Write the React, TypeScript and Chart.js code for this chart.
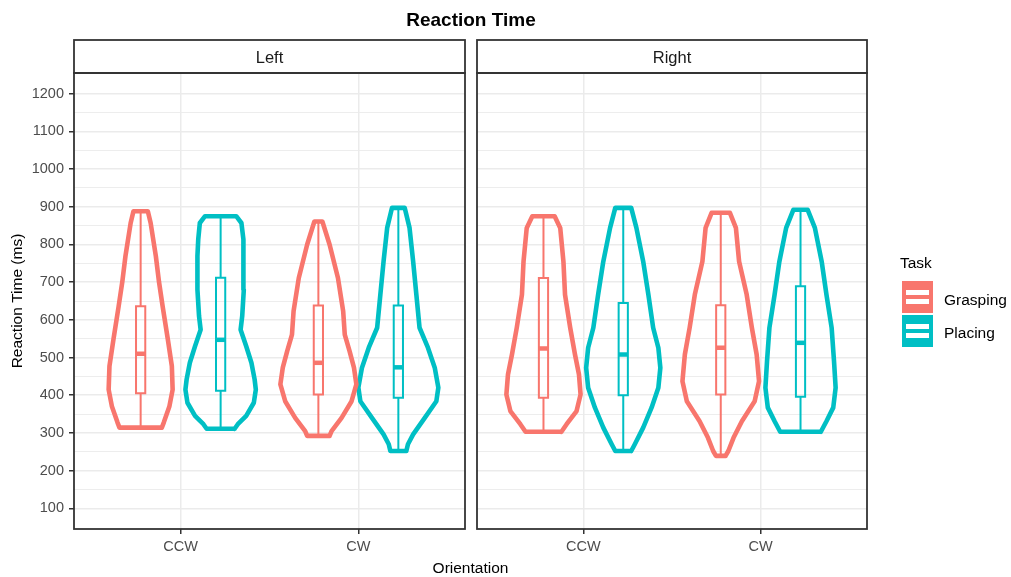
import React, { useEffect, useRef } from "react";
import { Chart, registerables } from "chart.js";

Chart.register(...registerables);

const FONT = "'Liberation Sans', Arial, Helvetica, sans-serif";

const facets = ["Left", "Right"];
const orientations = ["CCW", "CW"];
const tasks = ["Grasping", "Placing"];
const taskColors = ["#F8766D", "#00BFC4"];
const yMajorTicks = [100, 200, 300, 400, 500, 600, 700, 800, 900, 1000, 1100, 1200];
const yMinorTicks = [150, 250, 350, 450, 550, 650, 750, 850, 950, 1050, 1150];

// Violin outlines: reaction time values (ms) and scaled density (1 = widest violin)
const leftCcwGraspingRT = [314, 328, 371, 415, 477, 548, 636, 700, 769, 857, 888];
const leftCcwGraspingDensity = [0.53, 0.58, 0.72, 0.8, 0.78, 0.68, 0.55, 0.46, 0.38, 0.25, 0.18];
const leftCcwPlacingRT = [311, 323, 345, 380, 415, 442, 486, 530, 574, 610, 680, 769, 813, 857, 875];
const leftCcwPlacingDensity = [0.35, 0.43, 0.64, 0.83, 0.88, 0.85, 0.77, 0.64, 0.5, 0.54, 0.58, 0.58, 0.56, 0.52, 0.39];
const leftCwGraspingRT = [292, 305, 340, 384, 429, 473, 517, 561, 623, 711, 800, 861];
const leftCwGraspingDensity = [0.28, 0.33, 0.58, 0.83, 0.95, 0.89, 0.78, 0.66, 0.62, 0.49, 0.28, 0.1];
const leftCwPlacingRT = [252, 270, 296, 340, 384, 420, 473, 526, 579, 667, 755, 844, 897];
const leftCwPlacingDensity = [0.2, 0.24, 0.37, 0.66, 0.95, 1.0, 0.91, 0.74, 0.53, 0.45, 0.37, 0.28, 0.16];
const rightCcwGraspingRT = [303, 323, 358, 402, 455, 508, 579, 667, 755, 844, 875];
const rightCcwGraspingDensity = [0.45, 0.58, 0.83, 0.93, 0.89, 0.79, 0.67, 0.54, 0.5, 0.42, 0.28];
const rightCcwPlacingRT = [252, 270, 314, 367, 420, 473, 526, 579, 667, 755, 844, 897];
const rightCcwPlacingDensity = [0.2, 0.29, 0.5, 0.71, 0.88, 0.93, 0.88, 0.75, 0.63, 0.5, 0.33, 0.2];
const rightCwGraspingRT = [239, 252, 287, 331, 384, 437, 508, 579, 667, 755, 844, 884];
const rightCwGraspingDensity = [0.12, 0.19, 0.32, 0.53, 0.85, 0.96, 0.9, 0.78, 0.65, 0.46, 0.38, 0.23];
const rightCwPlacingRT = [303, 331, 367, 420, 490, 579, 667, 755, 844, 892];
const rightCwPlacingDensity = [0.51, 0.65, 0.82, 0.88, 0.84, 0.78, 0.65, 0.53, 0.36, 0.18];

// Box stats: [min, Q1, median, Q3, max]
const leftCcwGraspingBox = [314, 405, 510, 636, 888];
const leftCcwPlacingBox = [311, 412, 547, 712, 875];
const leftCwGraspingBox = [292, 402, 486, 638, 861];
const leftCwPlacingBox = [252, 393, 474, 638, 897];
const rightCcwGraspingBox = [303, 393, 524, 711, 875];
const rightCcwPlacingBox = [252, 400, 508, 645, 897];
const rightCwGraspingBox = [239, 402, 526, 639, 884];
const rightCwPlacingBox = [303, 396, 539, 689, 892];

const groups = [
  { facet: 0, orient: 0, task: 0, rt: leftCcwGraspingRT, density: leftCcwGraspingDensity, box: leftCcwGraspingBox },
  { facet: 0, orient: 0, task: 1, rt: leftCcwPlacingRT, density: leftCcwPlacingDensity, box: leftCcwPlacingBox },
  { facet: 0, orient: 1, task: 0, rt: leftCwGraspingRT, density: leftCwGraspingDensity, box: leftCwGraspingBox },
  { facet: 0, orient: 1, task: 1, rt: leftCwPlacingRT, density: leftCwPlacingDensity, box: leftCwPlacingBox },
  { facet: 1, orient: 0, task: 0, rt: rightCcwGraspingRT, density: rightCcwGraspingDensity, box: rightCcwGraspingBox },
  { facet: 1, orient: 0, task: 1, rt: rightCcwPlacingRT, density: rightCcwPlacingDensity, box: rightCcwPlacingBox },
  { facet: 1, orient: 1, task: 0, rt: rightCwGraspingRT, density: rightCwGraspingDensity, box: rightCwGraspingBox },
  { facet: 1, orient: 1, task: 1, rt: rightCwPlacingRT, density: rightCwPlacingDensity, box: rightCwPlacingBox },
];

const DODGE = 0.225;
const HALF = 0.225;
const BOX_HALF = 0.026;
const STRIP_H = 33;

function buildDatasets(facetIndex: number) {
  const ds: any[] = [];
  const common = {
    pointRadius: 0,
    pointHoverRadius: 0,
    fill: false,
    tension: 0,
    spanGaps: false,
  };
  groups
    .filter((g) => g.facet === facetIndex)
    .forEach((g) => {
      const color = taskColors[g.task];
      const cx = g.orient + 1 + (g.task === 0 ? -DODGE : DODGE);
      const outline: any[] = [];
      for (let i = 0; i < g.rt.length; i++) outline.push({ x: cx + g.density[i] * HALF, y: g.rt[i] });
      for (let i = g.rt.length - 1; i >= 0; i--) outline.push({ x: cx - g.density[i] * HALF, y: g.rt[i] });
      outline.push({ ...outline[0] });
      ds.push({
        ...common,
        data: outline,
        borderColor: color,
        borderWidth: 4.6,
        borderJoinStyle: "round",
        borderCapStyle: "round",
        order: 3,
      });
      const [mn, q1, md, q3, mx] = g.box;
      ds.push({
        ...common,
        data: [
          { x: cx, y: mn },
          { x: cx, y: q1 },
          { x: cx, y: null },
          { x: cx, y: q3 },
          { x: cx, y: mx },
        ],
        borderColor: color,
        borderWidth: 2,
        order: 2,
      });
      ds.push({
        ...common,
        data: [
          { x: cx - BOX_HALF, y: q1 },
          { x: cx + BOX_HALF, y: q1 },
          { x: cx + BOX_HALF, y: q3 },
          { x: cx - BOX_HALF, y: q3 },
          { x: cx - BOX_HALF, y: q1 },
        ],
        borderColor: color,
        borderWidth: 2,
        borderJoinStyle: "miter",
        borderCapStyle: "square",
        order: 2,
      });
      ds.push({
        ...common,
        data: [
          { x: cx - BOX_HALF, y: md },
          { x: cx + BOX_HALF, y: md },
        ],
        borderColor: color,
        borderWidth: 4.5,
        borderCapStyle: "butt",
        order: 1,
      });
    });
  return ds;
}

const panelPlugin = {
  id: "panelFrame",
  afterDraw(chart: any, _args: any, opts: any) {
    const { ctx, chartArea: a } = chart;
    ctx.save();
    ctx.strokeStyle = "#333333";
    ctx.lineWidth = 1.8;
    ctx.fillStyle = "#FFFFFF";
    ctx.fillRect(a.left, a.top - STRIP_H, a.right - a.left, STRIP_H);
    ctx.strokeRect(a.left, a.top - STRIP_H, a.right - a.left, STRIP_H);
    ctx.strokeRect(a.left, a.top, a.right - a.left, a.bottom - a.top);
    ctx.fillStyle = "#1A1A1A";
    ctx.font = `16.5px ${FONT}`;
    ctx.textAlign = "center";
    ctx.textBaseline = "middle";
    ctx.fillText(opts.label, (a.left + a.right) / 2, a.top - STRIP_H / 2 + 1.5);
    ctx.restore();
  },
};

const yGridTicks = [...yMajorTicks, ...yMinorTicks].sort((a, b) => a - b);

function makeConfig(facetIndex: number): any {
  const isLeft = facetIndex === 0;
  return {
    type: "line",
    data: { datasets: buildDatasets(facetIndex) },
    plugins: [panelPlugin],
    options: {
      responsive: false,
      animation: false,
      events: [],
      layout: {
        padding: isLeft
          ? { top: 73, left: 0, right: 1011 - 465, bottom: 0 }
          : { top: 73, left: 477, right: 1011 - 867, bottom: 0 },
      },
      plugins: {
        legend: { display: false },
        tooltip: { enabled: false },
        title: { display: false },
        panelFrame: { label: facets[facetIndex] },
      },
      scales: {
        x: {
          type: "linear",
          min: 0.4,
          max: 2.6,
          afterBuildTicks: (s: any) => {
            s.ticks = orientations.map((_, i) => ({ value: i + 1 }));
          },
          afterFit: (s: any) => {
            s.height = 48;
          },
          border: { display: false },
          grid: {
            color: "#EBEBEB",
            lineWidth: 1.5,
            drawTicks: true,
            tickLength: 5,
            tickColor: "#333333",
            tickWidth: 1.5,
          },
          ticks: {
            autoSkip: false,
            maxRotation: 0,
            padding: 4,
            color: "#4D4D4D",
            font: { family: FONT, size: 14.5 },
            callback: (v: any) => orientations[Math.round(v) - 1] ?? "",
          },
        },
        y: {
          type: "linear",
          min: 45,
          max: 1255,
          afterBuildTicks: (s: any) => {
            s.ticks = yGridTicks.map((v) => ({ value: v }));
          },
          afterFit: (s: any) => {
            s.width = isLeft ? 74 : 0;
          },
          border: { display: false },
          grid: {
            color: "#EBEBEB",
            lineWidth: (c: any) => (c.tick && c.tick.value % 100 === 0 ? 1.5 : 0.9),
            drawTicks: isLeft,
            tickLength: 5,
            tickWidth: 1.5,
            tickColor: (c: any) => (c.tick && c.tick.value % 100 === 0 ? "#333333" : "rgba(0,0,0,0)"),
          },
          ticks: {
            display: isLeft,
            autoSkip: false,
            padding: 5,
            color: "#4D4D4D",
            font: { family: FONT, size: 14.5 },
            callback: (v: any) => (v % 100 === 0 ? String(v) : ""),
          },
          title: {
            display: isLeft,
            text: "Reaction Time (ms)",
            color: "#000000",
            font: { family: FONT, size: 15.5 },
            padding: { top: 8, bottom: 0 },
          },
        },
      },
    },
  };
}

export default function App() {
  const leftRef = useRef<HTMLCanvasElement | null>(null);
  const rightRef = useRef<HTMLCanvasElement | null>(null);

  useEffect(() => {
    const charts: Chart[] = [];
    if (leftRef.current) charts.push(new Chart(leftRef.current, makeConfig(0)));
    if (rightRef.current) charts.push(new Chart(rightRef.current, makeConfig(1)));
    return () => charts.forEach((c) => c.destroy());
  }, []);

  const canvasStyle: React.CSSProperties = {
    position: "absolute",
    left: 0,
    top: 0,
    width: 1011,
    height: 577,
  };
  const text: React.CSSProperties = {
    position: "absolute",
    fontFamily: FONT,
    whiteSpace: "nowrap",
  };

  return (
    <div
      style={{
        position: "fixed",
        left: 0,
        top: 0,
        width: 1011,
        height: 577,
        background: "#FFFFFF",
        overflow: "hidden",
      }}
    >
      <canvas ref={leftRef} width={1011} height={577} style={canvasStyle} />
      <canvas ref={rightRef} width={1011} height={577} style={canvasStyle} />
      <div
        style={{
          ...text,
          left: 0,
          width: 942,
          top: 10,
          textAlign: "center",
          fontWeight: "bold",
          fontSize: 19,
          lineHeight: "20px",
          color: "#000",
        }}
      >
        Reaction Time
      </div>
      <div
        style={{
          ...text,
          left: 74,
          width: 793,
          top: 560,
          textAlign: "center",
          fontSize: 15.5,
          lineHeight: "16px",
          color: "#000",
        }}
      >
        Orientation
      </div>
      <div style={{ ...text, left: 900, top: 255, fontSize: 15.5, lineHeight: "16px", color: "#000" }}>Task</div>
      {tasks.map((t, i) => (
        <React.Fragment key={t}>
          <div
            style={{
              position: "absolute",
              left: 902,
              top: 281 + i * 34,
              width: 31,
              height: 32,
              background: taskColors[i],
            }}
          >
            <div style={{ position: "absolute", left: 4, top: 9, width: 23, height: 5, background: "#fff" }} />
            <div style={{ position: "absolute", left: 4, top: 18, width: 23, height: 5, background: "#fff" }} />
          </div>
          <div
            style={{
              ...text,
              left: 944,
              top: 292 + i * 33,
              fontSize: 15.5,
              lineHeight: "16px",
              color: "#000",
            }}
          >
            {t}
          </div>
        </React.Fragment>
      ))}
    </div>
  );
}
